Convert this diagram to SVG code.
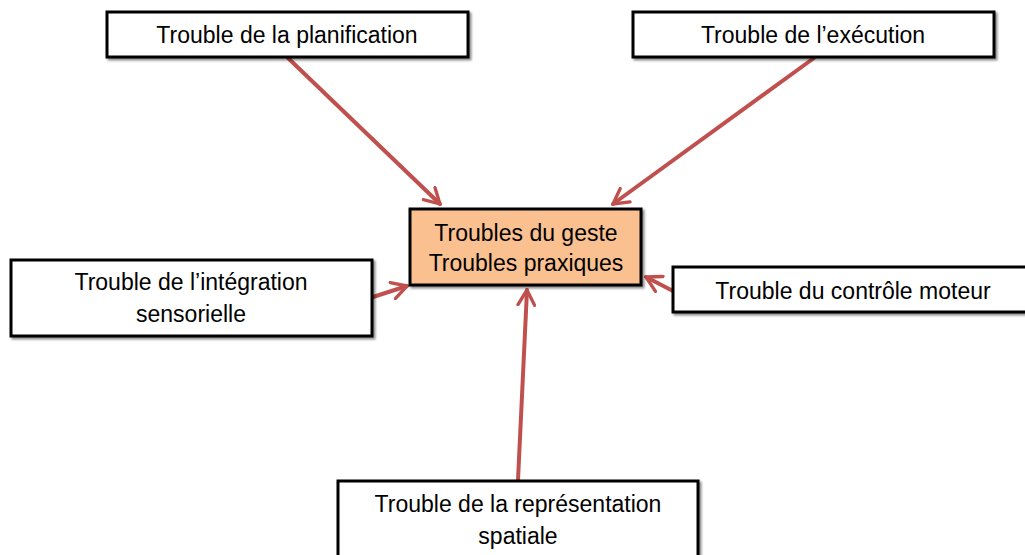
<svg xmlns="http://www.w3.org/2000/svg" width="1025" height="555" viewBox="0 0 1025 555">
  <style>
    .box { fill: #ffffff; stroke: #000000; stroke-width: 3; filter: url(#shadow); }
    .core { fill: #FAC090; stroke: #000000; stroke-width: 3; filter: url(#shadow); }
    .label { font-family: "Liberation Sans", Arial, sans-serif; font-size: 23px; fill: #000000; text-anchor: middle; }
    .link { stroke: #C0504D; stroke-width: 4; fill: none; stroke-linecap: round; marker-end: url(#chev); }
  </style>
  <defs>
    <filter id="shadow" x="-5%" y="-10%" width="115%" height="130%">
      <feDropShadow dx="2" dy="2" stdDeviation="0.8" flood-color="#000000" flood-opacity="0.45"/>
    </filter>
    <marker id="chev" viewBox="0 0 12 12" refX="10" refY="6" markerWidth="5" markerHeight="5" orient="auto" markerUnits="strokeWidth">
      <path d="M1,1 L10,6 L1,11" fill="none" stroke="#C0504D" stroke-width="2" stroke-linecap="round" stroke-linejoin="round"/>
    </marker>
  </defs>

  <!-- connectors -->
  <g id="connectors">
    <line class="link" x1="288" y1="58" x2="440" y2="204"/>
    <line class="link" x1="814" y1="58" x2="613" y2="204"/>
    <line class="link" x1="373" y1="297" x2="407" y2="286"/>
    <line class="link" x1="673" y1="291" x2="646" y2="277"/>
    <line class="link" x1="518" y1="480" x2="527" y2="290"/>
  </g>

  <g id="node-planification">
    <rect class="box" x="107" y="12" width="361" height="45"/>
    <text class="label" x="287" y="43">Trouble de la planification</text>
  </g>

  <g id="node-execution">
    <rect class="box" x="633" y="12" width="361" height="45"/>
    <text class="label" x="813" y="43">Trouble de l’exécution</text>
  </g>

  <g id="node-center">
    <rect class="core" x="410" y="209" width="231" height="76"/>
    <text class="label" x="526" y="241">Troubles du geste</text>
    <text class="label" x="526" y="271">Troubles praxiques</text>
  </g>

  <g id="node-integration">
    <rect class="box" x="11" y="260" width="361" height="76"/>
    <text class="label" x="191" y="290">Trouble de l’intégration</text>
    <text class="label" x="191" y="322">sensorielle</text>
  </g>

  <g id="node-controle">
    <rect class="box" x="673" y="267" width="360" height="45"/>
    <text class="label" x="853" y="299">Trouble du contrôle moteur</text>
  </g>

  <g id="node-representation">
    <rect class="box" x="338" y="481" width="360" height="85"/>
    <text class="label" x="518" y="512">Trouble de la représentation</text>
    <text class="label" x="518" y="544">spatiale</text>
  </g>
</svg>
